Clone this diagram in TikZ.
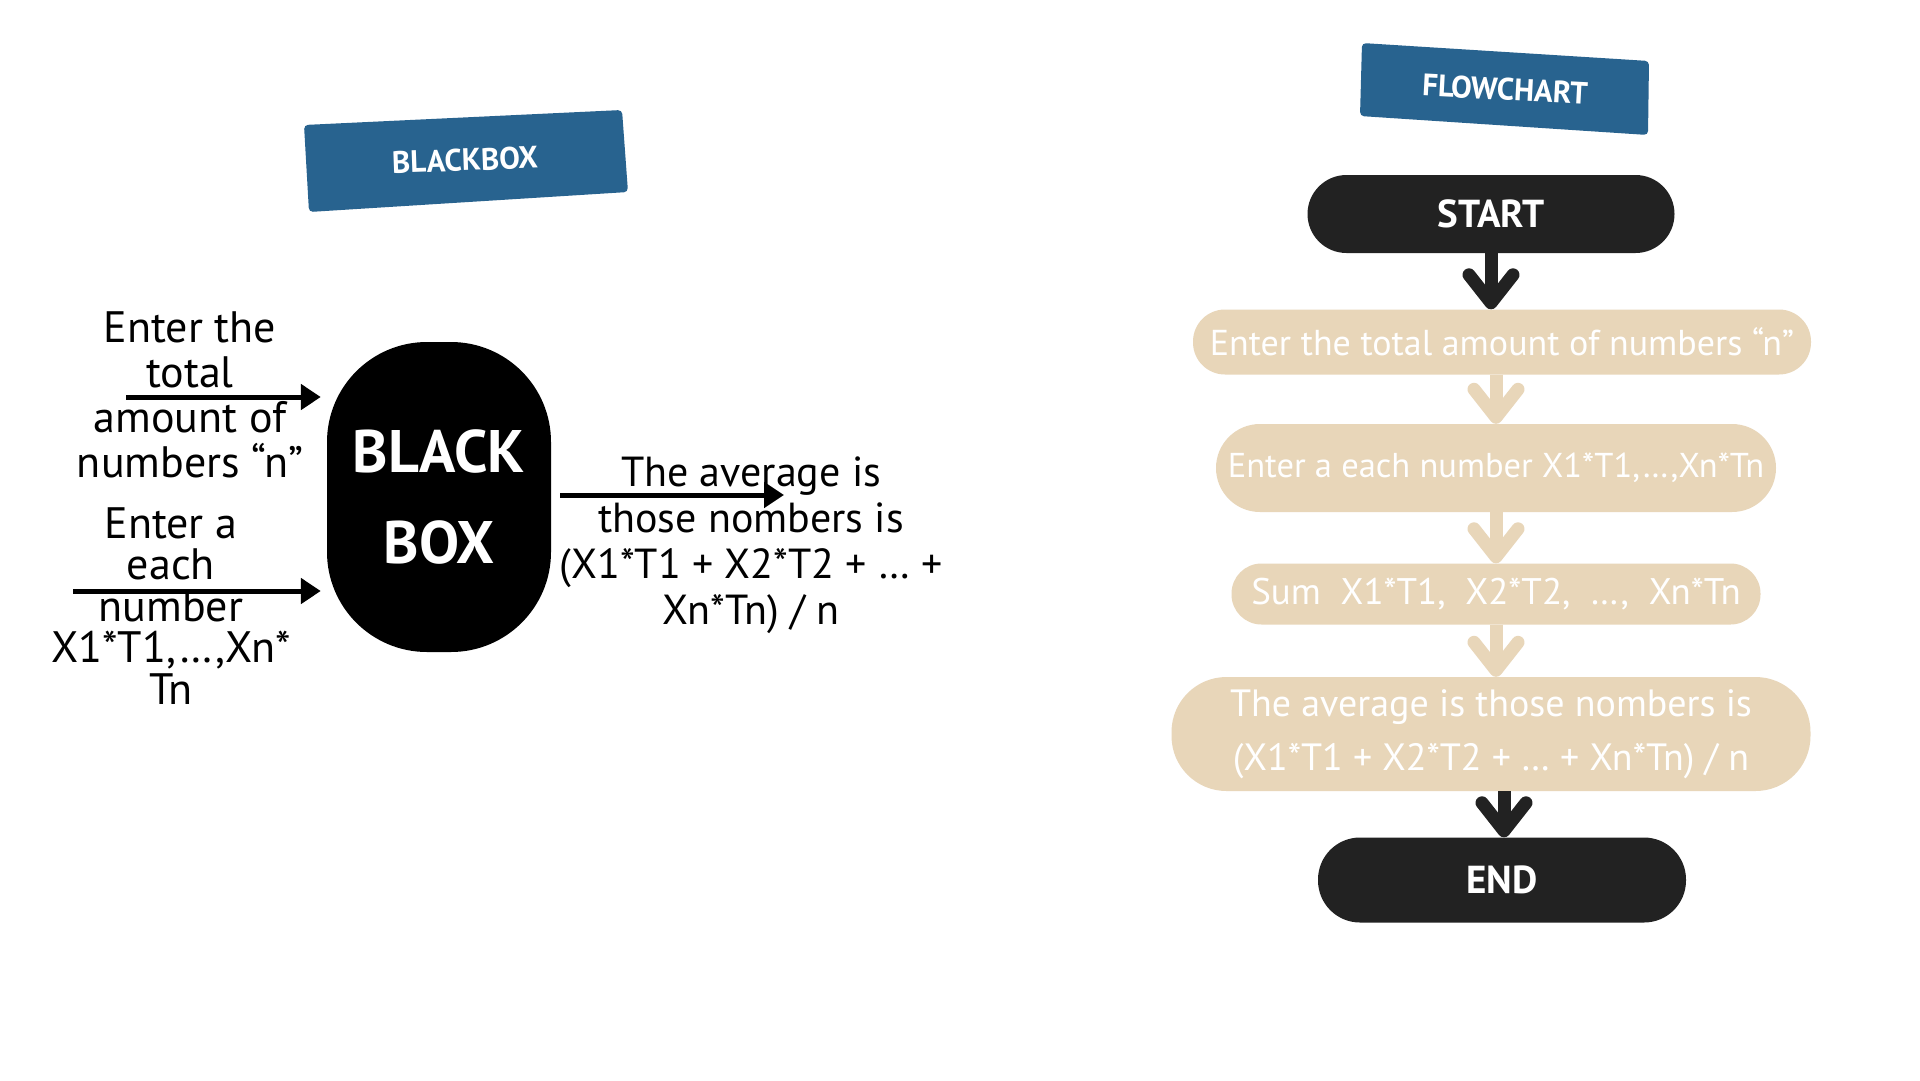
\documentclass[tikz,border=0pt]{standalone}
\usepackage{fontspec}
\setmainfont{PT Sans}
\usetikzlibrary{arrows.meta,calc}
\definecolor{bannerblue}{HTML}{28638F}
\definecolor{beige}{HTML}{E8D6B9}
\definecolor{darkbox}{HTML}{222222}
\begin{document}
\begin{tikzpicture}[x=1pt,y=-1pt,
  hand/.style={font=\fontsize{44}{45}\selectfont, align=center, text=black, inner sep=0pt},
  bannertext/.style={font=\fontsize{31}{34}\selectfont\bfseries, text=white, inner sep=0pt},
  inarrow/.style={line width=5pt, -{Triangle[length=20pt,width=25pt]}},
  termbox/.style={fill=darkbox, text=white, font=\fontsize{39}{44}\selectfont\bfseries, inner sep=0pt},
  procbox/.style={fill=beige, text=white, font=\fontsize{36}{54}\selectfont, align=center, inner sep=0pt},
  darkflow/.style={line width=13pt, draw=darkbox, -{Straight Barb[round,length=28pt,width=44pt]}},
  lightflow/.style={line width=13pt, draw=beige, -{Straight Barb[round,length=28pt,width=44pt]}}
]
\useasboundingbox[fill=white] (0,0) rectangle (1920,1080);

% ---------- BLACKBOX side ----------
\fill[bannerblue, rounded corners=4pt] (304,125) -- (622,110) -- (628,192) -- (309,212) -- cycle;
\node[bannertext, rotate=2] (bbtitle) at (465,160) {BLACKBOX};

\node[fill=black, rounded corners=100pt, minimum width=224pt, minimum height=310pt,
      inner sep=0pt, text=white, align=center, font=\fontsize{60}{91}\selectfont\bfseries]
      (bb) at (439,497) {BLACK\\BOX};

\node[hand] (tin1) at (190,395) {Enter the\\total\\amount of\\numbers “n”};
\node[hand, font=\fontsize{44}{41.5}\selectfont] (tin2) at (171,606) {Enter a\\each\\number\\X1*T1,…,Xn*\\Tn};
\node[hand, font=\fontsize{42}{46}\selectfont] (tout) at (751,545) {The average is\\those nombers is\\(X1*T1 + X2*T2 + … +\\Xn*Tn) / n};

\coordinate (a1s) at (126,397);
\coordinate (a2s) at (73,591);
\coordinate (a3e) at (784,495);
\draw[inarrow, shorten >=6pt] (a1s) -- (a1s -| bb.west);
\draw[inarrow, shorten >=6pt] (a2s) -- (a2s -| bb.west);
\draw[inarrow, shorten <=9pt] (a3e -| bb.east) -- (a3e);

% ---------- FLOWCHART side ----------
\fill[bannerblue, rounded corners=4pt] (1362,43) -- (1649,61) -- (1648,135) -- (1360,116) -- cycle;
\node[bannertext, rotate=-3] (fctitle) at (1505,89) {FLOWCHART};

\node[termbox, minimum width=367pt, minimum height=78pt, rounded corners=39pt] (fstart) at (1491,214) {START};
\node[procbox, minimum width=618pt, minimum height=65pt, rounded corners=32pt] (b1) at (1502,342) {Enter the total amount of numbers “n”};
\node[procbox, minimum width=560pt, minimum height=88pt, rounded corners=44pt, font=\fontsize{34.5}{54}\selectfont] (b2) at (1496,468) {Enter a each number X1*T1,…,Xn*Tn};
\node[procbox, minimum width=529pt, minimum height=61pt, rounded corners=30pt, font=\fontsize{37}{54}\selectfont] (b3) at (1496,594) {Sum\ \ X1*T1,\ \ X2*T2,\ \ …,\ \ Xn*Tn};
\node[procbox, minimum width=639pt, minimum height=114pt, rounded corners=55pt, font=\fontsize{38}{54}\selectfont] (b4) at (1491,734) {The average is those nombers is\\(X1*T1 + X2*T2 + … + Xn*Tn) / n};
\node[termbox, minimum width=368pt, minimum height=85pt, rounded corners=42pt] (fend) at (1502,880) {END};

\draw[darkflow] (fstart.south) -- (fstart.south |- b1.north);
\draw[lightflow] ([xshift=5pt]fstart.south |- b1.south) -- ([xshift=5pt]fstart.south |- b2.north);
\draw[lightflow] (b2.south) -- (b2.south |- b3.north);
\draw[lightflow] (b3.south) -- (b3.south |- b4.north);
\draw[darkflow] ([xshift=13pt]b4.south) -- ([xshift=13pt]b4.south |- fend.north);
\end{tikzpicture}
\end{document}
